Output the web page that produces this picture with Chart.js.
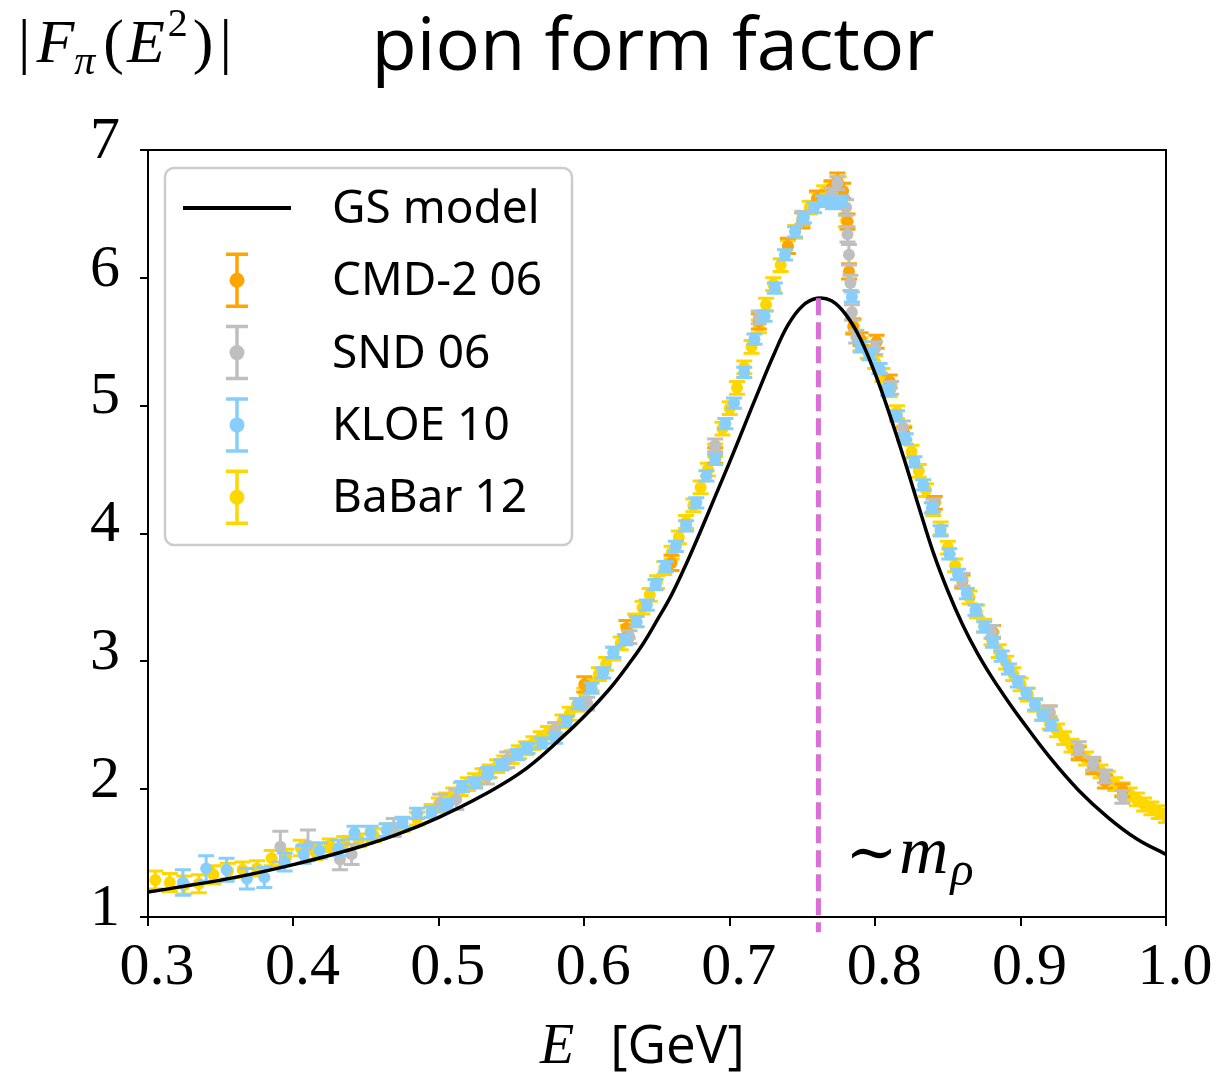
<!DOCTYPE html>
<html>
<head>
<meta charset="utf-8">
<script src="https://cdn.jsdelivr.net/npm/chart.js@4.4.1/dist/chart.umd.min.js"></script>
<style>
  body { margin: 0; background: #fff; }
  canvas { display: block; }
</style>
</head>
<body>
<canvas id="pionChart" width="1221" height="1075"></canvas>
<script>
// =======================
// DATOS
// =======================

// modelo GS (curva negra)
const gsE = [0.30, 0.33, 0.36, 0.40, 0.44, 0.47, 0.50, 0.53, 0.56, 0.59,
             0.60, 0.61, 0.62, 0.63, 0.64, 0.65, 0.66, 0.67, 0.68, 0.69,
             0.70, 0.71, 0.72, 0.73, 0.74, 0.75, 0.76, 0.77, 0.78, 0.79,
             0.80, 0.81, 0.82, 0.83, 0.84, 0.85, 0.86, 0.87, 0.88, 0.89,
             0.90, 0.92, 0.94, 0.96, 0.98, 1.00];
const gsF = [1.195, 1.25, 1.31, 1.41, 1.53, 1.64, 1.78, 1.95, 2.16, 2.46,
             2.57, 2.69, 2.82, 2.97, 3.13, 3.32, 3.52, 3.76, 4.02, 4.29,
             4.56, 4.84, 5.12, 5.39, 5.63, 5.78, 5.84, 5.82, 5.71, 5.52,
             5.25, 4.93, 4.58, 4.21, 3.85, 3.55, 3.29, 3.07, 2.88, 2.71,
             2.55, 2.25, 1.99, 1.78, 1.61, 1.49];

// linea vertical en m_rho
const rhoE = [0.761, 0.761];
const rhoF = [5.84, 0.88];

// CMD-2 06
const cmdE = [0.600, 0.629, 0.660, 0.690, 0.720, 0.740, 0.750, 0.760, 0.770, 0.774,
              0.778, 0.781, 0.782, 0.785, 0.790, 0.801, 0.810, 0.820, 0.841, 0.860,
              0.881, 0.920, 0.940, 0.950, 0.958, 0.970];
const cmdF = [2.82, 3.26, 3.77, 4.61, 5.66, 6.25, 6.45, 6.62, 6.70, 6.76,
              6.68, 6.44, 6.05, 5.62, 5.52, 5.50, 5.19, 4.78, 4.24, 3.63,
              3.23, 2.60, 2.28, 2.17, 2.06, 1.99];
const cmdErr = [0.06, 0.06, 0.06, 0.06, 0.06, 0.06, 0.06, 0.06, 0.06, 0.06,
                0.06, 0.06, 0.06, 0.06, 0.05, 0.05, 0.05, 0.05, 0.05, 0.05,
                0.05, 0.05, 0.05, 0.05, 0.05, 0.05];

// SND 06
const sndE = [0.391, 0.410, 0.432, 0.440, 0.469, 0.501, 0.512, 0.533, 0.547, 0.580,
              0.602, 0.631, 0.690, 0.720, 0.750, 0.770, 0.774, 0.780, 0.781, 0.782,
              0.783, 0.784, 0.787, 0.800, 0.811, 0.819, 0.840, 0.860, 0.880, 0.920,
              0.940, 0.950, 0.958, 0.970];
const sndF = [1.55, 1.56, 1.45, 1.49, 1.70, 1.89, 1.92, 2.10, 2.23, 2.46,
              2.67, 3.19, 4.69, 5.69, 6.47, 6.65, 6.74, 6.55, 6.34, 6.18,
              5.96, 5.73, 5.54, 5.45, 5.14, 4.83, 4.22, 3.64, 3.23, 2.60,
              2.32, 2.20, 2.10, 1.94];
const sndErr = [0.12, 0.12, 0.08, 0.08, 0.07, 0.07, 0.08, 0.06, 0.06, 0.06,
                0.05, 0.05, 0.05, 0.05, 0.05, 0.05, 0.05, 0.06, 0.06, 0.08,
                0.06, 0.06, 0.05, 0.05, 0.05, 0.05, 0.05, 0.05, 0.05, 0.05,
                0.05, 0.05, 0.05, 0.05];

// KLOE 10
const kloeE = [0.324, 0.340, 0.354, 0.368, 0.380, 0.394, 0.407, 0.418, 0.431, 0.442,
               0.453, 0.464, 0.475, 0.485, 0.495, 0.506, 0.516, 0.525, 0.534, 0.543,
               0.554, 0.561, 0.571, 0.580, 0.588, 0.596, 0.605, 0.613, 0.620, 0.628,
               0.636, 0.643, 0.649, 0.656, 0.663, 0.670, 0.677, 0.684, 0.690, 0.697,
               0.703, 0.710, 0.717, 0.724, 0.731, 0.738, 0.745, 0.751, 0.758, 0.764,
               0.771, 0.777, 0.784, 0.790, 0.796, 0.803, 0.809, 0.815, 0.821, 0.827,
               0.833, 0.839, 0.845, 0.851, 0.857, 0.863, 0.869, 0.875, 0.881, 0.887,
               0.892, 0.898, 0.904, 0.910, 0.915, 0.921];
const kloeF = [1.27, 1.38, 1.37, 1.30, 1.31, 1.43, 1.49, 1.52, 1.54, 1.66,
               1.66, 1.68, 1.74, 1.81, 1.82, 1.88, 2.02, 2.05, 2.13, 2.19,
               2.27, 2.32, 2.36, 2.40, 2.53, 2.67, 2.79, 2.91, 3.07, 3.17,
               3.31, 3.44, 3.60, 3.74, 3.90, 4.06, 4.24, 4.45, 4.58, 4.86,
               5.02, 5.26, 5.52, 5.70, 5.92, 6.18, 6.36, 6.47, 6.55, 6.60,
               6.58, 6.60, 5.85, 5.46, 5.40, 5.29, 5.12, 4.92, 4.74, 4.56,
               4.38, 4.20, 4.02, 3.84, 3.68, 3.53, 3.40, 3.27, 3.15, 3.04,
               2.94, 2.84, 2.75, 2.66, 2.58, 2.50];
const kloeErr = [0.10, 0.10, 0.09, 0.08, 0.08, 0.07, 0.07, 0.06, 0.06, 0.05,
                 0.05, 0.05, 0.04, 0.04, 0.04, 0.04, 0.04, 0.04, 0.04, 0.04,
                 0.04, 0.04, 0.04, 0.04, 0.04, 0.04, 0.04, 0.04, 0.04, 0.04,
                 0.04, 0.04, 0.04, 0.04, 0.04, 0.04, 0.04, 0.04, 0.04, 0.04,
                 0.04, 0.04, 0.04, 0.04, 0.04, 0.04, 0.04, 0.04, 0.04, 0.04,
                 0.04, 0.04, 0.04, 0.04, 0.04, 0.04, 0.04, 0.04, 0.04, 0.04,
                 0.04, 0.04, 0.04, 0.04, 0.04, 0.04, 0.04, 0.04, 0.04, 0.04,
                 0.04, 0.04, 0.04, 0.04, 0.04, 0.04];

// BaBar 12
const babarE = [0.305, 0.315, 0.325, 0.335, 0.345, 0.355, 0.365, 0.375, 0.385, 0.395,
                0.405, 0.415, 0.425, 0.435, 0.445, 0.455, 0.465, 0.475, 0.485, 0.495,
                0.500, 0.505, 0.510, 0.515, 0.520, 0.525, 0.530, 0.535, 0.540, 0.545,
                0.550, 0.555, 0.560, 0.565, 0.570, 0.575, 0.580, 0.585, 0.590, 0.595,
                0.600, 0.605, 0.610, 0.615, 0.620, 0.625, 0.630, 0.635, 0.640, 0.645,
                0.650, 0.655, 0.660, 0.665, 0.670, 0.675, 0.680, 0.685, 0.690, 0.695,
                0.700, 0.705, 0.710, 0.715, 0.720, 0.725, 0.730, 0.735, 0.740, 0.745,
                0.750, 0.755, 0.760, 0.765, 0.770, 0.775, 0.780, 0.785, 0.790, 0.795,
                0.800, 0.805, 0.810, 0.815, 0.820, 0.825, 0.830, 0.835, 0.840, 0.845,
                0.850, 0.855, 0.860, 0.865, 0.870, 0.875, 0.880, 0.885, 0.890, 0.895,
                0.900, 0.905, 0.910, 0.915, 0.920, 0.925, 0.930, 0.935, 0.940, 0.945,
                0.950, 0.955, 0.960, 0.965, 0.970, 0.975, 0.980, 0.985, 0.990, 0.995,
                1.000];
const babarF = [1.29, 1.27, 1.25, 1.26, 1.33, 1.36, 1.37, 1.38, 1.46, 1.47,
                1.54, 1.51, 1.56, 1.58, 1.60, 1.64, 1.68, 1.72, 1.77, 1.83,
                1.88, 1.92, 1.96, 2.00, 2.04, 2.07, 2.11, 2.14, 2.18, 2.21,
                2.25, 2.29, 2.32, 2.36, 2.40, 2.44, 2.47, 2.53, 2.59, 2.66,
                2.74, 2.82, 2.90, 2.98, 3.06, 3.14, 3.23, 3.32, 3.42, 3.52,
                3.62, 3.73, 3.85, 3.97, 4.09, 4.22, 4.36, 4.50, 4.65, 4.82,
                4.98, 5.14, 5.30, 5.46, 5.62, 5.79, 5.95, 6.10, 6.24, 6.36,
                6.46, 6.55, 6.62, 6.67, 6.70, 6.74, 6.45, 5.62, 5.48, 5.42,
                5.34, 5.24, 5.12, 4.95, 4.79, 4.64, 4.49, 4.34, 4.19, 4.04,
                3.89, 3.75, 3.62, 3.50, 3.39, 3.28, 3.18, 3.08, 2.99, 2.90,
                2.82, 2.74, 2.66, 2.59, 2.52, 2.46, 2.40, 2.34, 2.29, 2.24,
                2.19, 2.14, 2.09, 2.04, 2.00, 1.96, 1.92, 1.88, 1.85, 1.82,
                1.79];
const babarErr = [0.07, 0.07, 0.07, 0.07, 0.07, 0.06, 0.06, 0.06, 0.06, 0.06,
                  0.06, 0.06, 0.05, 0.05, 0.05, 0.05, 0.05, 0.05, 0.05, 0.05,
                  0.05, 0.05, 0.05, 0.05, 0.05, 0.05, 0.05, 0.05, 0.05, 0.05,
                  0.05, 0.05, 0.05, 0.05, 0.05, 0.05, 0.05, 0.05, 0.05, 0.05,
                  0.05, 0.05, 0.05, 0.05, 0.05, 0.05, 0.05, 0.05, 0.05, 0.05,
                  0.05, 0.05, 0.05, 0.05, 0.05, 0.05, 0.05, 0.05, 0.05, 0.05,
                  0.05, 0.05, 0.05, 0.05, 0.05, 0.05, 0.05, 0.05, 0.05, 0.05,
                  0.05, 0.05, 0.05, 0.05, 0.05, 0.05, 0.05, 0.05, 0.05, 0.05,
                  0.05, 0.05, 0.05, 0.05, 0.05, 0.05, 0.05, 0.05, 0.05, 0.05,
                  0.05, 0.05, 0.05, 0.05, 0.05, 0.05, 0.05, 0.05, 0.05, 0.05,
                  0.05, 0.05, 0.05, 0.05, 0.05, 0.05, 0.05, 0.05, 0.05, 0.05,
                  0.05, 0.05, 0.05, 0.05, 0.05, 0.05, 0.05, 0.05, 0.05, 0.05,
                  0.05];

const xTicks = [0.3, 0.4, 0.5, 0.6, 0.7, 0.8, 0.9, 1.0];
const yTicks = [1, 2, 3, 4, 5, 6, 7];

// =======================
// UTILIDADES
// =======================

function puntos(xs, ys) {
  return xs.map((x, i) => ({ x: x, y: ys[i] }));
}

function serieError(label, xs, ys, errs, color, orden) {
  return {
    type: 'scatter',
    label: label,
    data: puntos(xs, ys),
    errores: errs,
    backgroundColor: color,
    borderColor: color,
    borderWidth: 0,
    pointRadius: 6,
    pointHoverRadius: 6,
    order: orden
  };
}

// barras de error dibujadas con las escalas del grafico
const barrasError = {
  id: 'barrasError',
  beforeDatasetDraw(chart, args) {
    const ds = chart.data.datasets[args.index];
    if (!ds.errores) return;
    const ctx = chart.ctx;
    const yScale = chart.scales.y;
    const area = chart.chartArea;
    ctx.save();
    ctx.beginPath();
    ctx.rect(area.left, area.top, area.right - area.left, area.bottom - area.top);
    ctx.clip();
    ctx.strokeStyle = ds.borderColor;
    ctx.lineWidth = 3;
    ctx.beginPath();
    args.meta.data.forEach((pt, i) => {
      const v = ds.data[i].y;
      const e = ds.errores[i];
      const arriba = yScale.getPixelForValue(v + e);
      const abajo = yScale.getPixelForValue(v - e);
      ctx.moveTo(pt.x, arriba); ctx.lineTo(pt.x, abajo);
      ctx.moveTo(pt.x - 8, arriba); ctx.lineTo(pt.x + 8, arriba);
      ctx.moveTo(pt.x - 8, abajo); ctx.lineTo(pt.x + 8, abajo);
    });
    ctx.stroke();
    ctx.restore();
  }
};

// marco superior y derecho + leyenda dentro del area
const marcoLeyenda = {
  id: 'marcoLeyenda',
  afterDatasetsDraw(chart) {
    const ctx = chart.ctx;
    const a = chart.chartArea;
    ctx.save();
    ctx.strokeStyle = '#000';
    ctx.lineWidth = 2;
    ctx.strokeRect(a.left, a.top, a.right - a.left, a.bottom - a.top);

    // caja de la leyenda
    const bx = a.left + 17, by = a.top + 18, bw = 407, bh = 377;
    ctx.beginPath();
    ctx.roundRect(bx, by, bw, bh, 9);
    ctx.fillStyle = 'rgba(255,255,255,0.8)';
    ctx.fill();
    ctx.strokeStyle = '#cccccc';
    ctx.lineWidth = 2.5;
    ctx.stroke();

    ctx.font = '46px "Noto Sans"';
    ctx.textBaseline = 'middle';
    ctx.textAlign = 'left';
    let fila = 0;
    chart.data.datasets.forEach(ds => {
      if (!ds.label) return;
      const cy = by + 40 + fila * 72.3;
      const cx = bx + 72;
      if (ds.errores) {
        ctx.strokeStyle = ds.borderColor;
        ctx.lineWidth = 3.5;
        ctx.beginPath();
        ctx.moveTo(cx, cy - 26); ctx.lineTo(cx, cy + 26);
        ctx.moveTo(cx - 11, cy - 26); ctx.lineTo(cx + 11, cy - 26);
        ctx.moveTo(cx - 11, cy + 26); ctx.lineTo(cx + 11, cy + 26);
        ctx.stroke();
        ctx.fillStyle = ds.backgroundColor;
        ctx.beginPath();
        ctx.arc(cx, cy, 7.5, 0, Math.PI * 2);
        ctx.fill();
      } else {
        ctx.strokeStyle = ds.borderColor;
        ctx.lineWidth = 4;
        ctx.beginPath();
        ctx.moveTo(bx + 18, cy); ctx.lineTo(bx + 126, cy);
        ctx.stroke();
      }
      ctx.fillStyle = '#000';
      ctx.fillText(ds.label, bx + 167, cy + 2);
      fila++;
    });
    ctx.restore();
  }
};

function textoCompuesto(ctx, x, y, partes) {
  partes.forEach(p => {
    ctx.font = p.font;
    ctx.fillText(p.t, x, y + (p.dy || 0));
    x += ctx.measureText(p.t).width + (p.gap || 0);
  });
  return x;
}

// titulo, etiquetas de ejes y anotacion m_rho
const textos = {
  id: 'textos',
  afterDraw(chart) {
    const ctx = chart.ctx;
    const a = chart.chartArea;
    const xs = chart.scales.x;
    const centro = (a.left + a.right) / 2;
    ctx.save();
    ctx.fillStyle = '#000';
    ctx.textBaseline = 'alphabetic';

    ctx.textAlign = 'center';
    ctx.font = '74px "Open Sans"';
    ctx.fillText('pion form factor', centro - 4, a.top - 80);

    ctx.textAlign = 'left';
    const serif = '"Liberation Serif"';
    textoCompuesto(ctx, 18, a.top - 88, [
      { t: '|', font: '62px ' + serif, gap: 6 },
      { t: 'F', font: 'italic 62px ' + serif, gap: 0 },
      { t: 'π', font: 'italic 42px ' + serif, dy: 12, gap: 8 },
      { t: '(', font: '62px ' + serif, gap: 3 },
      { t: 'E', font: 'italic 62px ' + serif, gap: 3 },
      { t: '2', font: '40px ' + serif, dy: -26, gap: 5 },
      { t: ')', font: '62px ' + serif, gap: 6 },
      { t: '|', font: '62px ' + serif }
    ]);

    textoCompuesto(ctx, centro - 117, a.bottom + 146, [
      { t: 'E', font: 'italic 56px ' + serif, gap: 36 },
      { t: '[GeV]', font: '53px "Open Sans"' }
    ]);

    const xr = xs.getPixelForValue(rhoE[0]);
    textoCompuesto(ctx, xr + 27, a.bottom - 44, [
      { t: '∼', font: '62px "DejaVu Serif"', gap: 2 },
      { t: 'm', font: 'italic 68px ' + serif, gap: 2 },
      { t: 'ρ', font: 'italic 48px ' + serif, dy: 12 }
    ]);
    ctx.restore();
  }
};

// =======================
// GRAFICO
// =======================

const ctx = document.getElementById('pionChart').getContext('2d');
const chart = new Chart(ctx, {
  type: 'scatter',
  data: {
    datasets: [
      {
        type: 'line',
        label: 'GS model',
        data: puntos(gsE, gsF),
        borderColor: '#000',
        borderWidth: 3.5,
        pointRadius: 0,
        tension: 0.4,
        fill: false,
        order: 0
      },
      serieError('CMD-2 06', cmdE, cmdF, cmdErr, '#FFA500', 3),
      serieError('SND 06', sndE, sndF, sndErr, '#BFBFBF', 2),
      serieError('KLOE 10', kloeE, kloeF, kloeErr, '#87CEFA', 1),
      serieError('BaBar 12', babarE, babarF, babarErr, '#FFD700', 4),
      {
        type: 'line',
        label: '',
        data: puntos(rhoE, rhoF),
        borderColor: '#DA70D6',
        borderWidth: 5,
        borderDash: [17, 7],
        pointRadius: 0,
        clip: false,
        fill: false,
        order: -1
      }
    ]
  },
  options: {
    responsive: false,
    animation: false,
    layout: { padding: { top: 150, right: 55, left: 0, bottom: 0 } },
    plugins: {
      legend: { display: false },
      tooltip: { enabled: false },
      title: { display: false }
    },
    scales: {
      x: {
        type: 'linear',
        min: 0.3,
        max: 1.0,
        afterBuildTicks: s => { s.ticks = xTicks.map(v => ({ value: v })); },
        afterFit: s => { s.height = 158; },
        grid: { drawOnChartArea: false, color: '#000', lineWidth: 2, tickLength: 9 },
        border: { color: '#000', width: 2 },
        ticks: {
          color: '#000',
          padding: 6,
          labelOffset: 9,
          maxRotation: 0,
          font: { family: 'Liberation Serif', size: 60 },
          callback: v => v.toFixed(1)
        }
      },
      y: {
        min: 1,
        max: 7,
        afterBuildTicks: s => { s.ticks = yTicks.map(v => ({ value: v })); },
        afterFit: s => { s.width = 148; },
        grid: { drawOnChartArea: false, color: '#000', lineWidth: 2, tickLength: 8 },
        border: { color: '#000', width: 2 },
        ticks: {
          color: '#000',
          padding: 20,
          labelOffset: -8,
          font: { family: 'Liberation Serif', size: 60 },
          callback: v => String(v)
        }
      }
    }
  },
  plugins: [barrasError, marcoLeyenda, textos]
});
</script>
</body>
</html>
